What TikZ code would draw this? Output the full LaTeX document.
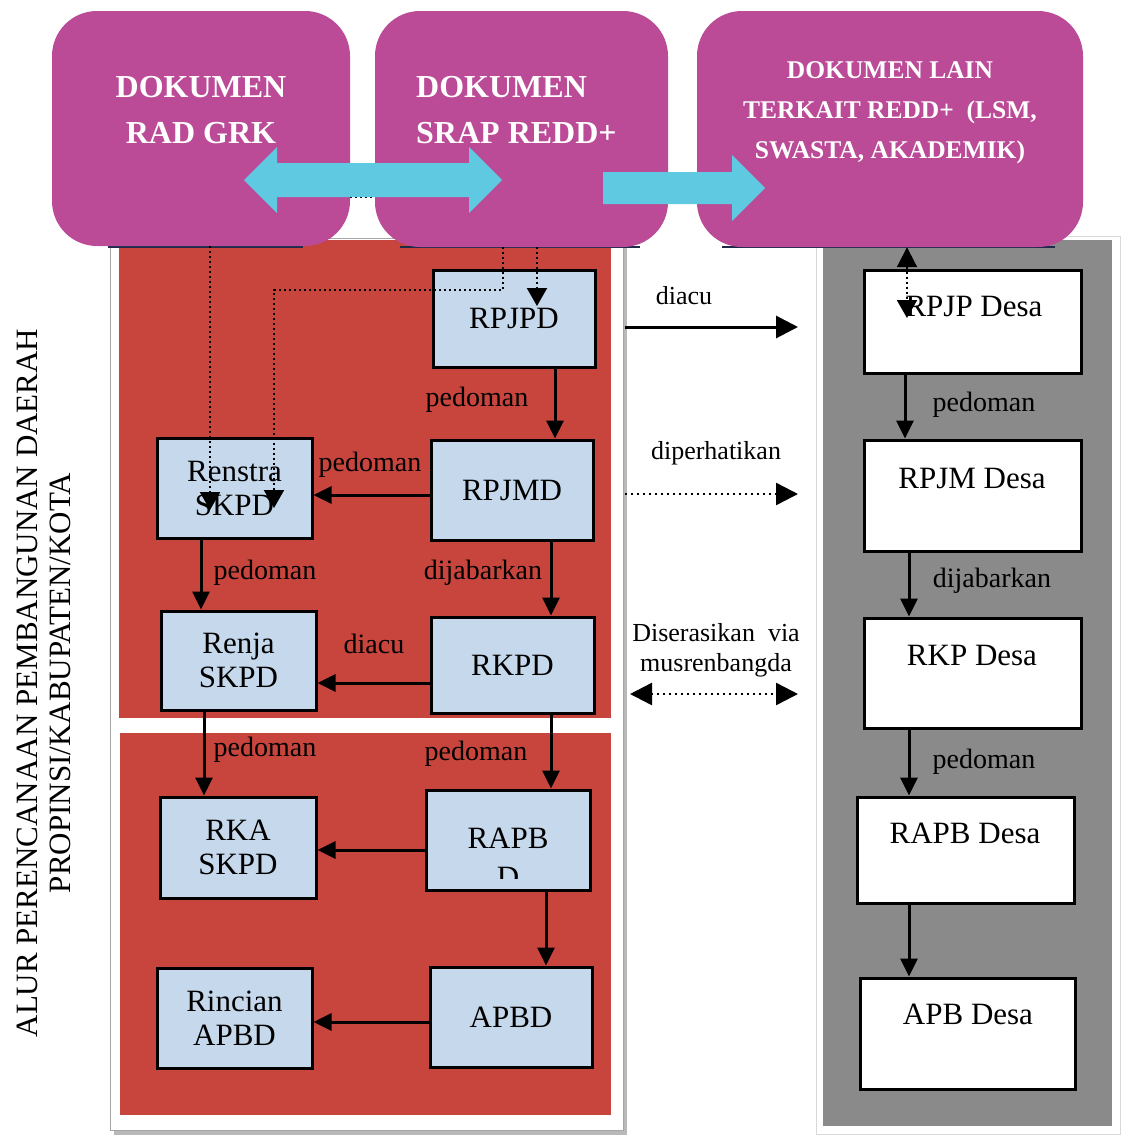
\documentclass[tikz,border=0pt]{standalone}
\usepackage{fontspec}
\setmainfont{Liberation Serif}
\usetikzlibrary{arrows.meta,calc}
\definecolor{mag}{HTML}{BB4A97}
\definecolor{cyanarr}{HTML}{5FC9E1}
\definecolor{redp}{HTML}{C8453D}
\definecolor{bluebox}{HTML}{C6D9EC}
\definecolor{grayp}{HTML}{8A8A8A}
\definecolor{navy}{HTML}{1F2A4A}
\begin{document}
\begin{tikzpicture}[x=1pt,y=-1pt,
  mbox/.style={fill=mag, rounded corners=45pt, inner sep=0pt},
  mtext/.style={text=white, font=\bfseries\fontsize{32}{46}\selectfont, inner sep=0pt},
  stext/.style={text=white, font=\bfseries\fontsize{25.5}{40}\selectfont, align=center, inner sep=0pt},
  bbox/.style={draw=black, line width=3pt, fill=bluebox, inner sep=0pt, align=center, font=\fontsize{31}{34}\selectfont},
  dbox/.style={draw=black, line width=3pt, fill=white, inner sep=0pt},
  dtext/.style={font=\fontsize{31}{34}\selectfont, inner sep=0pt},
  lbl/.style={font=\fontsize{28}{30}\selectfont, inner sep=0pt},
  mlbl/.style={font=\fontsize{26}{30}\selectfont, inner sep=0pt, align=center},
  conn/.style={line width=3pt, -{Triangle[length=18pt,width=17pt]}},
  bigconn/.style={line width=3pt, -{Triangle[length=22pt,width=22pt]}},
  dotconn/.style={line width=2.5pt, dash pattern=on 2pt off 4pt, -{Triangle[length=22pt,width=22pt]}},
  ddotconn/.style={line width=2.5pt, dash pattern=on 2pt off 4pt, {Triangle[length=22pt,width=22pt]}-{Triangle[length=22pt,width=22pt]}},
  dconn/.style={line width=2pt, dash pattern=on 2pt off 3pt, -{Triangle[length=18pt,width=20pt]}},
  ddconn/.style={line width=2pt, dash pattern=on 2pt off 3pt, {Triangle[length=20pt,width=20pt]}-{Triangle[length=18pt,width=20pt]}}
]
\useasboundingbox (0,0) rectangle (1123,1138);
\fill[white] (0,0) rectangle (1123,1138);

% left frame and red panels
\fill[gray!55] (114,243) rectangle (627,1135);
\filldraw[fill=white, draw=gray!70, line width=1pt] (110,238) rectangle (623,1130);
\fill[redp] (119,240) rectangle (611,718);
\fill[redp] (120,733) rectangle (611,1115);

% right frame and gray panel
\filldraw[fill=white, draw=gray!30, line width=1pt] (816,236) rectangle (1120,1134);
\fill[grayp] (823,240) rectangle (1112,1126);

% frame edges under the magenta boxes
\draw[navy, line width=2pt] (108,246.5) -- (303,246.5);
\draw[navy, line width=2pt] (400,246.5) -- (640,246.5);
\draw[navy, line width=2pt] (722,246.5) -- (1055,246.5);

% magenta boxes
\node[mbox, minimum width=298pt, minimum height=235pt] (m1) at (201,128.5) {};
\node[mbox, minimum width=293pt, minimum height=236pt] (m2) at (521.5,129) {};
\node[mbox, minimum width=386pt, minimum height=236pt] (m3) at (890,129) {};
\node[mtext, align=center] (m1t) at (201,110) {DOKUMEN\\RAD GRK};
\node[mtext, align=left, anchor=west] (m2t) at (416,110) {DOKUMEN\\SRAP REDD+};
\node[stext] (m3t) at (890,113) {DOKUMEN LAIN\\TERKAIT REDD+~~(LSM,\\SWASTA, AKADEMIK)};

% small dotted link between first two boxes
\draw[line width=2pt, dash pattern=on 2pt off 3pt] ([yshift=-68.5pt]m1.east) -- ([yshift=-68.5pt]m1.east -| m2.west);

% cyan arrows
\fill[cyanarr] (244,180) -- (277,147) -- (277,163) -- (469,163) -- (469,147) -- (502,180)
  -- (469,213) -- (469,197) -- (277,197) -- (277,213) -- cycle;
\fill[cyanarr] (603,172) -- (732,172) -- (732,155) -- (765,188) -- (732,221) -- (732,204) -- (603,204) -- cycle;

% blue boxes
\node[bbox, minimum width=162pt, minimum height=97pt] (rpjpd) at (514,318.5) {RPJPD};
\node[bbox, minimum width=162pt, minimum height=100pt] (rpjmd) at (512,490) {RPJMD};
\node[bbox, minimum width=155pt, minimum height=100pt] (renstra) at (234.5,488) {Renstra\\SKPD};
\node[bbox, minimum width=155pt, minimum height=99pt] (renja) at (238.5,660.5) {Renja\\SKPD};
\node[bbox, minimum width=163pt, minimum height=96pt] (rkpd) at (512.5,665) {RKPD};
\node[bbox, minimum width=156pt, minimum height=101pt] (rka) at (238,847.5) {RKA\\SKPD};
\node[bbox, minimum width=164pt, minimum height=100pt] (rapbd) at (508,840) {};
\node[dtext, anchor=base] (rapbdt) at (508,848) {RAPB};
\begin{scope}
\clip (430,855) rectangle (586,878);
\node[dtext, anchor=base] (rapbdd) at (508,887) {D};
\end{scope}
\node[bbox, minimum width=155pt, minimum height=100pt] (rincian) at (234.5,1018) {Rincian\\APBD};
\node[bbox, minimum width=162pt, minimum height=100pt] (apbd) at (511,1017) {APBD};

% desa boxes
\node[dbox, minimum width=217pt, minimum height=103pt] (d1) at (972.5,321.5) {};
\node[dbox, minimum width=217pt, minimum height=111pt] (d2) at (972.5,495.5) {};
\node[dbox, minimum width=217pt, minimum height=110pt] (d3) at (972.5,673) {};
\node[dbox, minimum width=217pt, minimum height=106pt] (d4) at (965.5,850) {};
\node[dbox, minimum width=215pt, minimum height=111pt] (d5) at (967.5,1033.5) {};
\node[dtext] (d1t) at (974,306) {RPJP Desa};
\node[dtext] (d2t) at (972,478) {RPJM Desa};
\node[dtext] (d3t) at (972,655) {RKP Desa};
\node[dtext] (d4t) at (965,833) {RAPB Desa};
\node[dtext] (d5t) at (968,1014) {APB Desa};

% red panel connectors
\draw[conn] ([xshift=41pt]rpjpd.south) -- ([xshift=41pt]rpjpd.south |- rpjmd.north);
\draw[conn] ([yshift=-5pt]rpjmd.west) -- ([yshift=-5pt]rpjmd.west -| renstra.east);
\draw[conn] ([xshift=-33.5pt]renstra.south) -- ([xshift=-33.5pt]renstra.south |- renja.north);
\draw[conn] ([xshift=39pt]rpjmd.south) -- ([xshift=39pt]rpjmd.south |- rkpd.north);
\draw[conn] ([yshift=-18pt]rkpd.west) -- ([yshift=-18pt]rkpd.west -| renja.east);
\draw[conn] ([xshift=-34.5pt]renja.south) -- ([xshift=-34.5pt]renja.south |- rka.north);
\draw[conn] ([xshift=38.5pt]rkpd.south) -- ([xshift=38.5pt]rkpd.south |- rapbd.north);
\draw[conn] ([yshift=-10pt]rapbd.west) -- ([yshift=-10pt]rapbd.west -| rka.east);
\draw[conn] ([xshift=38pt]rapbd.south) -- ([xshift=38pt]rapbd.south |- apbd.north);
\draw[conn] ([yshift=-5pt]apbd.west) -- ([yshift=-5pt]apbd.west -| rincian.east);

\node[lbl] (l1) at (477,400) {pedoman};
\node[lbl] (l2) at (370,465) {pedoman};
\node[lbl] (l3) at (265,573) {pedoman};
\node[lbl] (l4) at (483,573) {dijabarkan};
\node[lbl] (l5) at (374,644) {diacu};
\node[lbl] (l6) at (265,750) {pedoman};
\node[lbl] (l7) at (476,754) {pedoman};

% desa connectors
\draw[conn] ([xshift=-67.5pt]d1.south) -- ([xshift=-67.5pt]d1.south |- d2.north);
\draw[conn] ([xshift=-63.5pt]d2.south) -- ([xshift=-63.5pt]d2.south |- d3.north);
\draw[conn] ([xshift=-63.5pt]d3.south) -- ([xshift=-63.5pt]d3.south |- d4.north);
\draw[conn] ([xshift=-56.5pt]d4.south) -- ([xshift=-56.5pt]d4.south |- d5.north);
\node[lbl] (l8) at (984,405) {pedoman};
\node[lbl] (l9) at (992,581) {dijabarkan};
\node[lbl] (l10) at (984,762) {pedoman};

% middle connectors
\coordinate (c1a) at (625,327);
\coordinate (c1b) at (798,327);
\coordinate (c2a) at (625,494);
\coordinate (c2b) at (798,494);
\coordinate (c3a) at (630,694);
\coordinate (c3b) at (798,694);
\draw[bigconn] (c1a) -- (c1b);
\draw[dotconn] (c2a) -- (c2b);
\draw[ddotconn] (c3a) -- (c3b);
\node[mlbl] (l11) at (684,296) {diacu};
\node[mlbl] (l12) at (716,453) {diperhatikan};
\node[mlbl] (l13) at (716,650) {Diserasikan~~via\\musrenbangda};

% dotted connectors from the document boxes
\coordinate (ta) at (210,510);
\coordinate (tb1) at (503,290);
\coordinate (tb2) at (274,290);
\coordinate (tb3) at (274,508);
\coordinate (tc) at (537,306);
\coordinate (td) at (907,318);
\draw[dconn] ([xshift=9pt]m1.south) -- (ta);
\draw[dconn] ([xshift=-18.5pt]m2.south) -- (tb1) -- (tb2) -- (tb3);
\draw[dconn] ([xshift=15.5pt]m2.south) -- (tc);
\draw[ddconn] ([xshift=17pt]m3.south) -- (td);

% side title
\node[rotate=90, align=center, font=\fontsize{31}{33}\selectfont, inner sep=0pt] (side) at (43.5,683)
  {ALUR PERENCANAAN PEMBANGUNAN DAERAH\\PROPINSI/KABUPATEN/KOTA};
\end{tikzpicture}
\end{document}
